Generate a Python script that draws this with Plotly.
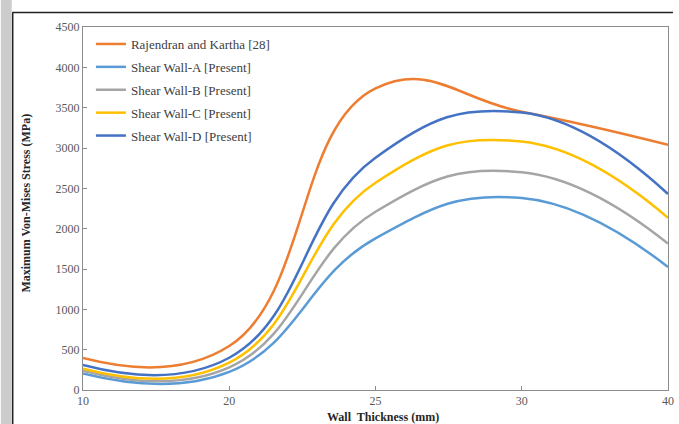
import plotly.graph_objects as go

thickness = ["10", "20", "25", "30", "40"]
rajendran = [396, 545, 3740, 3450, 3040]
wall_a = [205, 225, 1880, 2380, 1525]
wall_b = [240, 280, 2210, 2700, 1815]
wall_c = [265, 340, 2570, 3080, 2135]
wall_d = [310, 400, 2880, 3440, 2430]

series = [
    ("Rajendran and Kartha [28]", rajendran, "#ED7D31"),
    ("Shear Wall-A [Present]", wall_a, "#5B9BD5"),
    ("Shear Wall-B [Present]", wall_b, "#A5A5A5"),
    ("Shear Wall-C [Present]", wall_c, "#FFC000"),
    ("Shear Wall-D [Present]", wall_d, "#4472C4"),
]

fig = go.Figure()
for i, (name, vals, col) in enumerate(series):
    fig.add_trace(go.Scatter(
        x=thickness, y=vals, name=name, mode="lines",
        line=dict(color=col, width=2.5, shape="spline", smoothing=1.3),
        legendgroup=f"g{i}",
    ))

serif = "Liberation Serif"
W, H = 679, 424
L, R, T, B = 83, 5, 27, 34
pw, ph = W - L - R, H - T - B

def px(x):
    return (x - L) / pw

def py(y):
    return (H - B - y) / ph

fig.update_layout(
    width=W, height=H,
    margin=dict(l=L, r=R, t=T, b=B),
    paper_bgcolor="white", plot_bgcolor="white",
    font=dict(family=serif, size=11, color="#595959"),
    showlegend=True,
    legend=dict(
        x=px(91), y=py(29), xanchor="left", yanchor="top",
        bgcolor="rgba(0,0,0,0)", font=dict(family=serif, size=13, color="#404040"),
        tracegroupgap=3,
    ),
    xaxis=dict(
        type="category", range=[0, 4],
        showline=True, linecolor="#8c8c8c", linewidth=1, mirror=True,
        ticks="inside", ticklen=4, tickcolor="#8c8c8c",
        showgrid=False, zeroline=False,
        tickfont=dict(family=serif, size=12, color="#595959"),
    ),
    yaxis=dict(
        range=[0, 4500], dtick=500,
        showline=True, linecolor="#8c8c8c", linewidth=1, mirror=True,
        ticks="inside", ticklen=4, tickcolor="#8c8c8c",
        showgrid=False, zeroline=False,
        tickfont=dict(family=serif, size=12, color="#595959"),
    ),
    annotations=[
        dict(text="<b>Maximum Von-Mises Stress (MPa)</b>", xref="paper", yref="paper",
             x=px(25), y=py(203), textangle=-90, showarrow=False,
             font=dict(family=serif, size=12, color="#262626"),
             xanchor="center", yanchor="middle"),
        dict(text="<b>Wall  Thickness (mm)</b>", xref="paper", yref="paper",
             x=px(386), y=py(417), showarrow=False,
             font=dict(family=serif, size=12, color="#262626"),
             xanchor="center", yanchor="middle"),
    ],
    shapes=[
        dict(type="rect", xref="paper", yref="paper",
             x0=px(0), x1=px(11), y0=py(424), y1=py(0),
             fillcolor="#cccccc", line=dict(width=0), layer="below"),
        dict(type="line", xref="paper", yref="paper",
             x0=px(11.5), x1=px(679), y0=py(12.5), y1=py(12.5),
             line=dict(color="#222222", width=1.5)),
        dict(type="line", xref="paper", yref="paper",
             x0=px(12), x1=px(12), y0=py(12.5), y1=py(424),
             line=dict(color="#222222", width=1.5)),
    ],
)

fig.write_html("out.html", config={"displayModeBar": False},
               post_script="document.body.style.margin='0';")
